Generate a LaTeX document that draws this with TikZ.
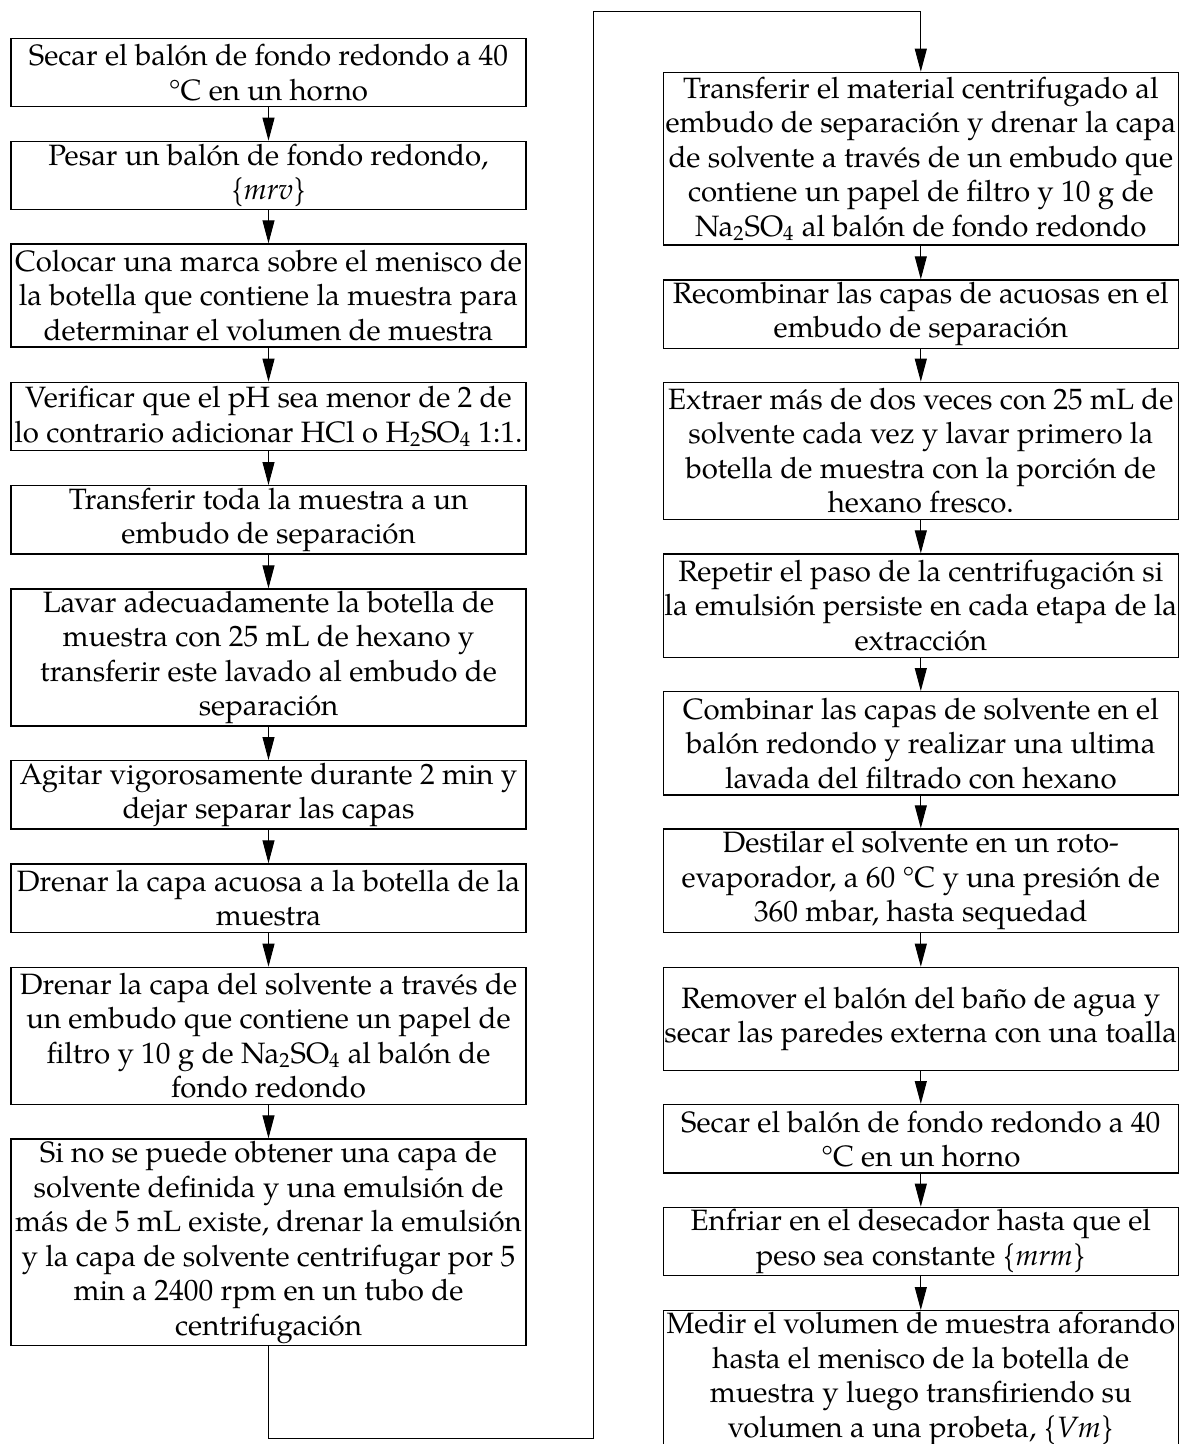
\documentclass[tikz,border=0pt]{standalone}
\usepackage{fontspec}
\setmainfont{TeX Gyre Pagella}
\usetikzlibrary{arrows.meta}

\begin{document}
\begin{tikzpicture}[x=0.5pt, y=-0.5pt,
  stepbox/.style={draw, line width=0.65pt, minimum width=257.5pt, inner sep=0pt,
    align=center, anchor=north, font=\fontsize{14.7pt}{17.25pt}\selectfont},
  h2/.style={minimum height=34.2pt},
  h3/.style={minimum height=51.6pt},
  h4/.style={minimum height=68.5pt},
  h5/.style={minimum height=86.3pt},
  h6/.style={minimum height=103.3pt},
  conn/.style={line width=0.5pt, -{Triangle[length=11.5pt, width=6pt]}}]
\useasboundingbox (0,0) rectangle (1179,1444);

% left column
\node[stepbox,h2] (b1)  at (268.5,37.7)   {Secar el balón de fondo redondo a 40\\°C en un horno};
\node[stepbox,h2] (b2)  at (268.5,140.7)  {Pesar un balón de fondo redondo,\\\{\textit{mrv}\}};
\node[stepbox,h3] (b3)  at (268.5,243.3)  {Colocar una marca sobre el menisco de\\la botella que contiene la muestra para\\determinar el volumen de muestra};
\node[stepbox,h2] (b4)  at (268.5,381.7)  {Verificar que el pH sea menor de 2 de\\lo contrario adicionar HCl o H\textsubscript{2}SO\textsubscript{4} 1:1.};
\node[stepbox,h2] (b5)  at (268.5,485)    {Transferir toda la muestra a un\\embudo de separación};
\node[stepbox,h4] (b6)  at (268.5,588.3)  {Lavar adecuadamente la botella de\\muestra con 25 mL de hexano y\\transferir este lavado al embudo de\\separación};
\node[stepbox,h2] (b7)  at (268.5,760)    {Agitar vigorosamente durante 2 min y\\dejar separar las capas};
\node[stepbox,h2] (b8)  at (268.5,863.3)  {Drenar la capa acuosa a la botella de la\\muestra};
\node[stepbox,h4] (b9)  at (268.5,966.7)  {Drenar la capa del solvente a través de\\un embudo que contiene un papel de\\filtro y 10 g de Na\textsubscript{2}SO\textsubscript{4} al balón de\\fondo redondo};
\node[stepbox,h6] (b10) at (268.5,1138.3) {Si no se puede obtener una capa de\\solvente definida y una emulsión de\\más de 5 mL existe, drenar la emulsión\\y la capa de solvente centrifugar por 5\\min a 2400 rpm en un tubo de\\centrifugación};

% right column
\node[stepbox,h5] (r1)  at (920.8,71.7)   {Transferir el material centrifugado al\\embudo de separación y drenar la capa\\de solvente a través de un embudo que\\contiene un papel de filtro y 10 g de\\Na\textsubscript{2}SO\textsubscript{4} al balón de fondo redondo};
\node[stepbox,h2] (r2)  at (920.8,279.3)  {Recombinar las capas de acuosas en el\\embudo de separación};
\node[stepbox,h4] (r3)  at (920.8,381.7)  {Extraer más de dos veces con 25 mL de\\solvente cada vez y lavar primero la\\botella de muestra con la porción de\\hexano fresco.};
\node[stepbox,h3] (r4)  at (920.8,553.3)  {Repetir el paso de la centrifugación si\\la emulsión persiste en cada etapa de la\\extracción};
\node[stepbox,h3] (r5)  at (920.8,691)    {Combinar las capas de solvente en el\\balón redondo y realizar una ultima\\lavada del filtrado con hexano};
\node[stepbox,h3] (r6)  at (920.8,828.3)  {Destilar el solvente en un roto-\\evaporador, a 60 °C y una presión de\\360 mbar, hasta sequedad};
\node[stepbox,h3] (r7)  at (920.8,966.7)  {Remover el balón del baño de agua y\\secar las paredes externa con una toalla};
\node[stepbox,h2] (r8)  at (920.8,1104)   {Secar el balón de fondo redondo a 40\\°C en un horno};
\node[stepbox,h2] (r9)  at (920.8,1206.7) {Enfriar en el desecador hasta que el\\peso sea constante \{\textit{mrm}\}};
\node[stepbox,h4] (r10) at (920.8,1310)   {Medir el volumen de muestra aforando\\hasta el menisco de la botella de\\muestra y luego transfiriendo su\\volumen a una probeta, \{\textit{Vm}\}};

% arrows within the columns
\foreach \a/\b in {b1/b2,b2/b3,b3/b4,b4/b5,b5/b6,b6/b7,b7/b8,b8/b9,b9/b10,
                   r1/r2,r2/r3,r3/r4,r4/r5,r5/r6,r6/r7,r7/r8,r8/r9,r9/r10}
  \draw[conn] (\a.south) -- (\b.north);

% link from the bottom of the left column to the top of the right column
\coordinate (lb) at (593,1438);
\coordinate (lt) at (593,12);
\draw[conn, line join=miter] (b10.south) |- (lb) -- (lt) -| (r1.north);
\end{tikzpicture}
\end{document}
